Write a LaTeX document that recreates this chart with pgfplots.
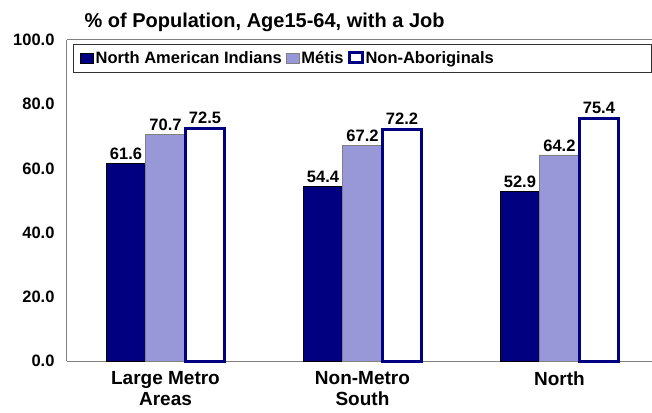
\documentclass[border=0pt]{standalone}
\usepackage{pgfplots}
\pgfplotsset{compat=1.18}
\usepackage{fontspec}
\setmainfont{Liberation Sans}
\definecolor{navy}{RGB}{0,0,128}
\definecolor{metis}{RGB}{152,152,216}
\definecolor{axgray}{RGB}{128,128,128}
\begin{document}
\begin{tikzpicture}
\begin{axis}[
  scale only axis,
  width=600pt, height=321pt,
  xmin=-0.5, xmax=2.546,
  ymin=0, ymax=100,
  axis x line*=bottom, axis y line*=left,
  ybar=0pt, bar width=39.5pt,
  xtick={0,1,2},
  xticklabels={{Large Metro\\Areas},{Non-Metro\\South},{North}},
  xticklabel style={font=\fontsize{19}{20.5}\selectfont\bfseries, align=center, yshift=-7pt},
  ytick={0,20,40,60,80,100},
  yticklabel style={font=\fontsize{16.5}{18}\selectfont\bfseries, xshift=-9pt},
  yticklabel={\pgfmathprintnumber[fixed,fixed zerofill,precision=1]{\tick}},
  /pgf/number format/assume math mode=true,
  major tick length=0pt,
  axis line style={axgray, line width=1pt, -},
  clip=false,
  nodes near coords,
  nodes near coords style={font=\fontsize{16.5}{18}\selectfont\bfseries, black, /pgf/number format/.cd, fixed, fixed zerofill, precision=1},
  legend columns=3,
  legend style={draw=none, fill=none, at={(0.0217,0.944)}, anchor=west, inner sep=0pt,
    font=\fontsize{16.5}{18}\selectfont\bfseries,
    /tikz/every even column/.append style={column sep=2pt}},
  legend cell align=left,
  legend image code/.code={\draw[#1] (0pt,-5pt) rectangle (13pt,5pt);},
]
\addplot[draw=black, fill=navy, line width=0.5pt] coordinates {(0,61.6) (1,54.4) (2,52.9)};
\addlegendentry{North American Indians}
\addplot[draw=axgray, fill=metis, line width=0.5pt] coordinates {(0,70.7) (1,67.2) (2,64.2)};
\addlegendentry{Métis}
\addplot[draw=navy, fill=white, line width=3pt] coordinates {(0,72.5) (1,72.2) (2,75.4)};
\addlegendentry{Non-Aboriginals}
\draw[axgray, line width=1pt] (rel axis cs:0,1) -- (rel axis cs:1,1);
\draw[black!80, line width=0.7pt] ([xshift=6pt,yshift=-4pt]rel axis cs:0,1) rectangle ([xshift=-16pt,yshift=-32pt]rel axis cs:1,1);
\node[anchor=west, font=\fontsize{20}{22}\selectfont\bfseries] at ([xshift=14pt,yshift=18pt]rel axis cs:0,1) {\% of Population, Age15-64, with a Job};
\end{axis}
\pgfresetboundingbox
\path[use as bounding box] ([xshift=-67pt,yshift=-51pt]current axis.south west) rectangle ([xshift=-15pt,yshift=40pt]current axis.north east);
\end{tikzpicture}
\end{document}
